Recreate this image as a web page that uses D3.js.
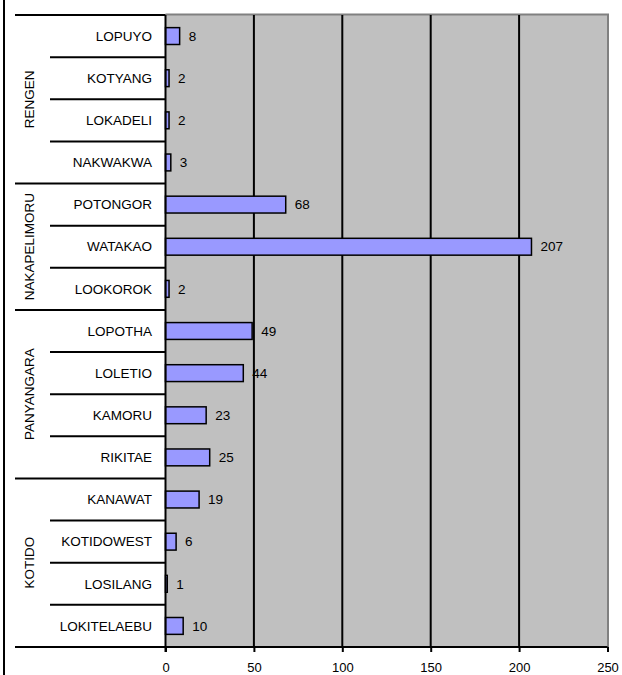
<!DOCTYPE html>
<html>
<head>
<meta charset="utf-8">
<script src="https://cdn.jsdelivr.net/npm/d3@7"></script>
<style>
    body { margin: 0; background: #fff; }
    svg { display: block; font-family: "Liberation Sans", Arial, sans-serif; }
</style>
</head>
<body>
<svg id="chart" width="622" height="675"></svg>
<script>
// rows top to bottom
let villages = ["LOPUYO", "KOTYANG", "LOKADELI", "NAKWAKWA",
    "POTONGOR", "WATAKAO", "LOOKOROK",
    "LOPOTHA", "LOLETIO", "KAMORU", "RIKITAE",
    "KANAWAT", "KOTIDOWEST", "LOSILANG", "LOKITELAEBU"];
let counts = [8, 2, 2, 3, 68, 207, 2, 49, 44, 23, 25, 19, 6, 1, 10];
let parishes = ["RENGEN", "NAKAPELIMORU", "PANYANGARA", "KOTIDO"];
let parishSize = [4, 3, 4, 4];
let xTicks = [0, 50, 100, 150, 200, 250];

// note: "top" is taken by window.top, so use plot* names
let plotLeft = 165.5, plotRight = 607.5, plotTop = 15, plotBottom = 647;
let fontSize = 13.5;

let svg = d3.select("#chart");

let x = d3.scaleLinear().domain([0, 250]).range([plotLeft, plotRight]);
let y = d3.scaleBand().domain(villages).range([plotTop, plotBottom]).paddingInner(0.6).paddingOuter(0.3);
let row = d3.scaleBand().domain(villages).range([plotTop, plotBottom]);

// frame line on the left
svg.append("line")
    .attr("x1", 4).attr("x2", 4).attr("y1", 0).attr("y2", 675)
    .attr("stroke", "#000").attr("stroke-width", 2);

// plot background
svg.append("rect")
    .attr("x", plotLeft).attr("y", plotTop)
    .attr("width", plotRight - plotLeft).attr("height", plotBottom - plotTop)
    .attr("fill", "#c0c0c0");
svg.append("path")
    .attr("d", "M" + plotLeft + "," + (plotTop - 0.5) + "H" + (plotRight + 0.5) + "V" + plotBottom)
    .attr("fill", "none").attr("stroke", "#808080").attr("stroke-width", 2);

// gridlines
svg.append("g").selectAll("line")
    .data(xTicks.slice(1, -1))
    .join("line")
    .attr("x1", d => x(d)).attr("x2", d => x(d))
    .attr("y1", plotTop).attr("y2", plotBottom)
    .attr("stroke", "#000").attr("stroke-width", 2);

// bars
svg.append("g").selectAll("rect")
    .data(counts)
    .join("rect")
    .attr("x", x(0))
    .attr("y", (d, i) => y(villages[i]))
    .attr("width", d => x(d) - x(0))
    .attr("height", y.bandwidth())
    .attr("fill", "#9999ff")
    .attr("stroke", "#000")
    .attr("stroke-width", 1.5);

// value labels
svg.append("g").selectAll("text")
    .data(counts)
    .join("text")
    .attr("x", d => x(d) + 9)
    .attr("y", (d, i) => y(villages[i]) + y.bandwidth() / 2)
    .attr("dy", "0.35em")
    .attr("font-size", fontSize)
    .attr("fill", "#000")
    .text(d => d);

// category labels
svg.append("g").selectAll("text")
    .data(villages)
    .join("text")
    .attr("x", 152)
    .attr("y", d => row(d) + row.bandwidth() / 2)
    .attr("dy", "0.35em")
    .attr("text-anchor", "end")
    .attr("font-size", fontSize)
    .attr("fill", "#000")
    .text(d => d);

// row separators and group separators
let groupStart = [];
let acc = 0;
parishSize.forEach(n => { groupStart.push(acc); acc += n; });

svg.append("g").selectAll("line")
    .data(villages.slice(1))
    .join("line")
    .attr("x1", (d, i) => groupStart.includes(i + 1) ? 15 : 50)
    .attr("x2", plotLeft)
    .attr("y1", d => row(d)).attr("y2", d => row(d))
    .attr("stroke", "#000").attr("stroke-width", 2);

svg.append("line")
    .attr("x1", 15).attr("x2", plotLeft).attr("y1", plotTop).attr("y2", plotTop)
    .attr("stroke", "#000").attr("stroke-width", 2);

// parish labels
svg.append("g").selectAll("text")
    .data(parishes)
    .join("text")
    .attr("transform", (d, i) => {
        let y0 = row(villages[groupStart[i]]);
        let y1 = y0 + parishSize[i] * row.bandwidth();
        return "translate(29," + ((y0 + y1) / 2) + ") rotate(-90)";
    })
    .attr("dy", "0.35em")
    .attr("text-anchor", "middle")
    .attr("font-size", fontSize)
    .attr("fill", "#000")
    .text(d => d);

// axes lines
svg.append("line")
    .attr("x1", plotLeft).attr("x2", plotLeft).attr("y1", plotTop).attr("y2", plotBottom + 5)
    .attr("stroke", "#000").attr("stroke-width", 2);
svg.append("line")
    .attr("x1", 15).attr("x2", plotRight).attr("y1", plotBottom).attr("y2", plotBottom)
    .attr("stroke", "#000").attr("stroke-width", 2);

let xAxis = svg.append("g")
    .attr("transform", "translate(0," + plotBottom + ")")
    .call(d3.axisBottom(x).tickValues(xTicks).tickSize(5).tickPadding(11));
xAxis.select(".domain").remove();
xAxis.selectAll(".tick line").attr("stroke", "#000").attr("stroke-width", 2);
xAxis.selectAll(".tick text")
    .attr("font-size", 13)
    .attr("font-family", "Liberation Sans, Arial, sans-serif")
    .attr("fill", "#000");
</script>
</body>
</html>
